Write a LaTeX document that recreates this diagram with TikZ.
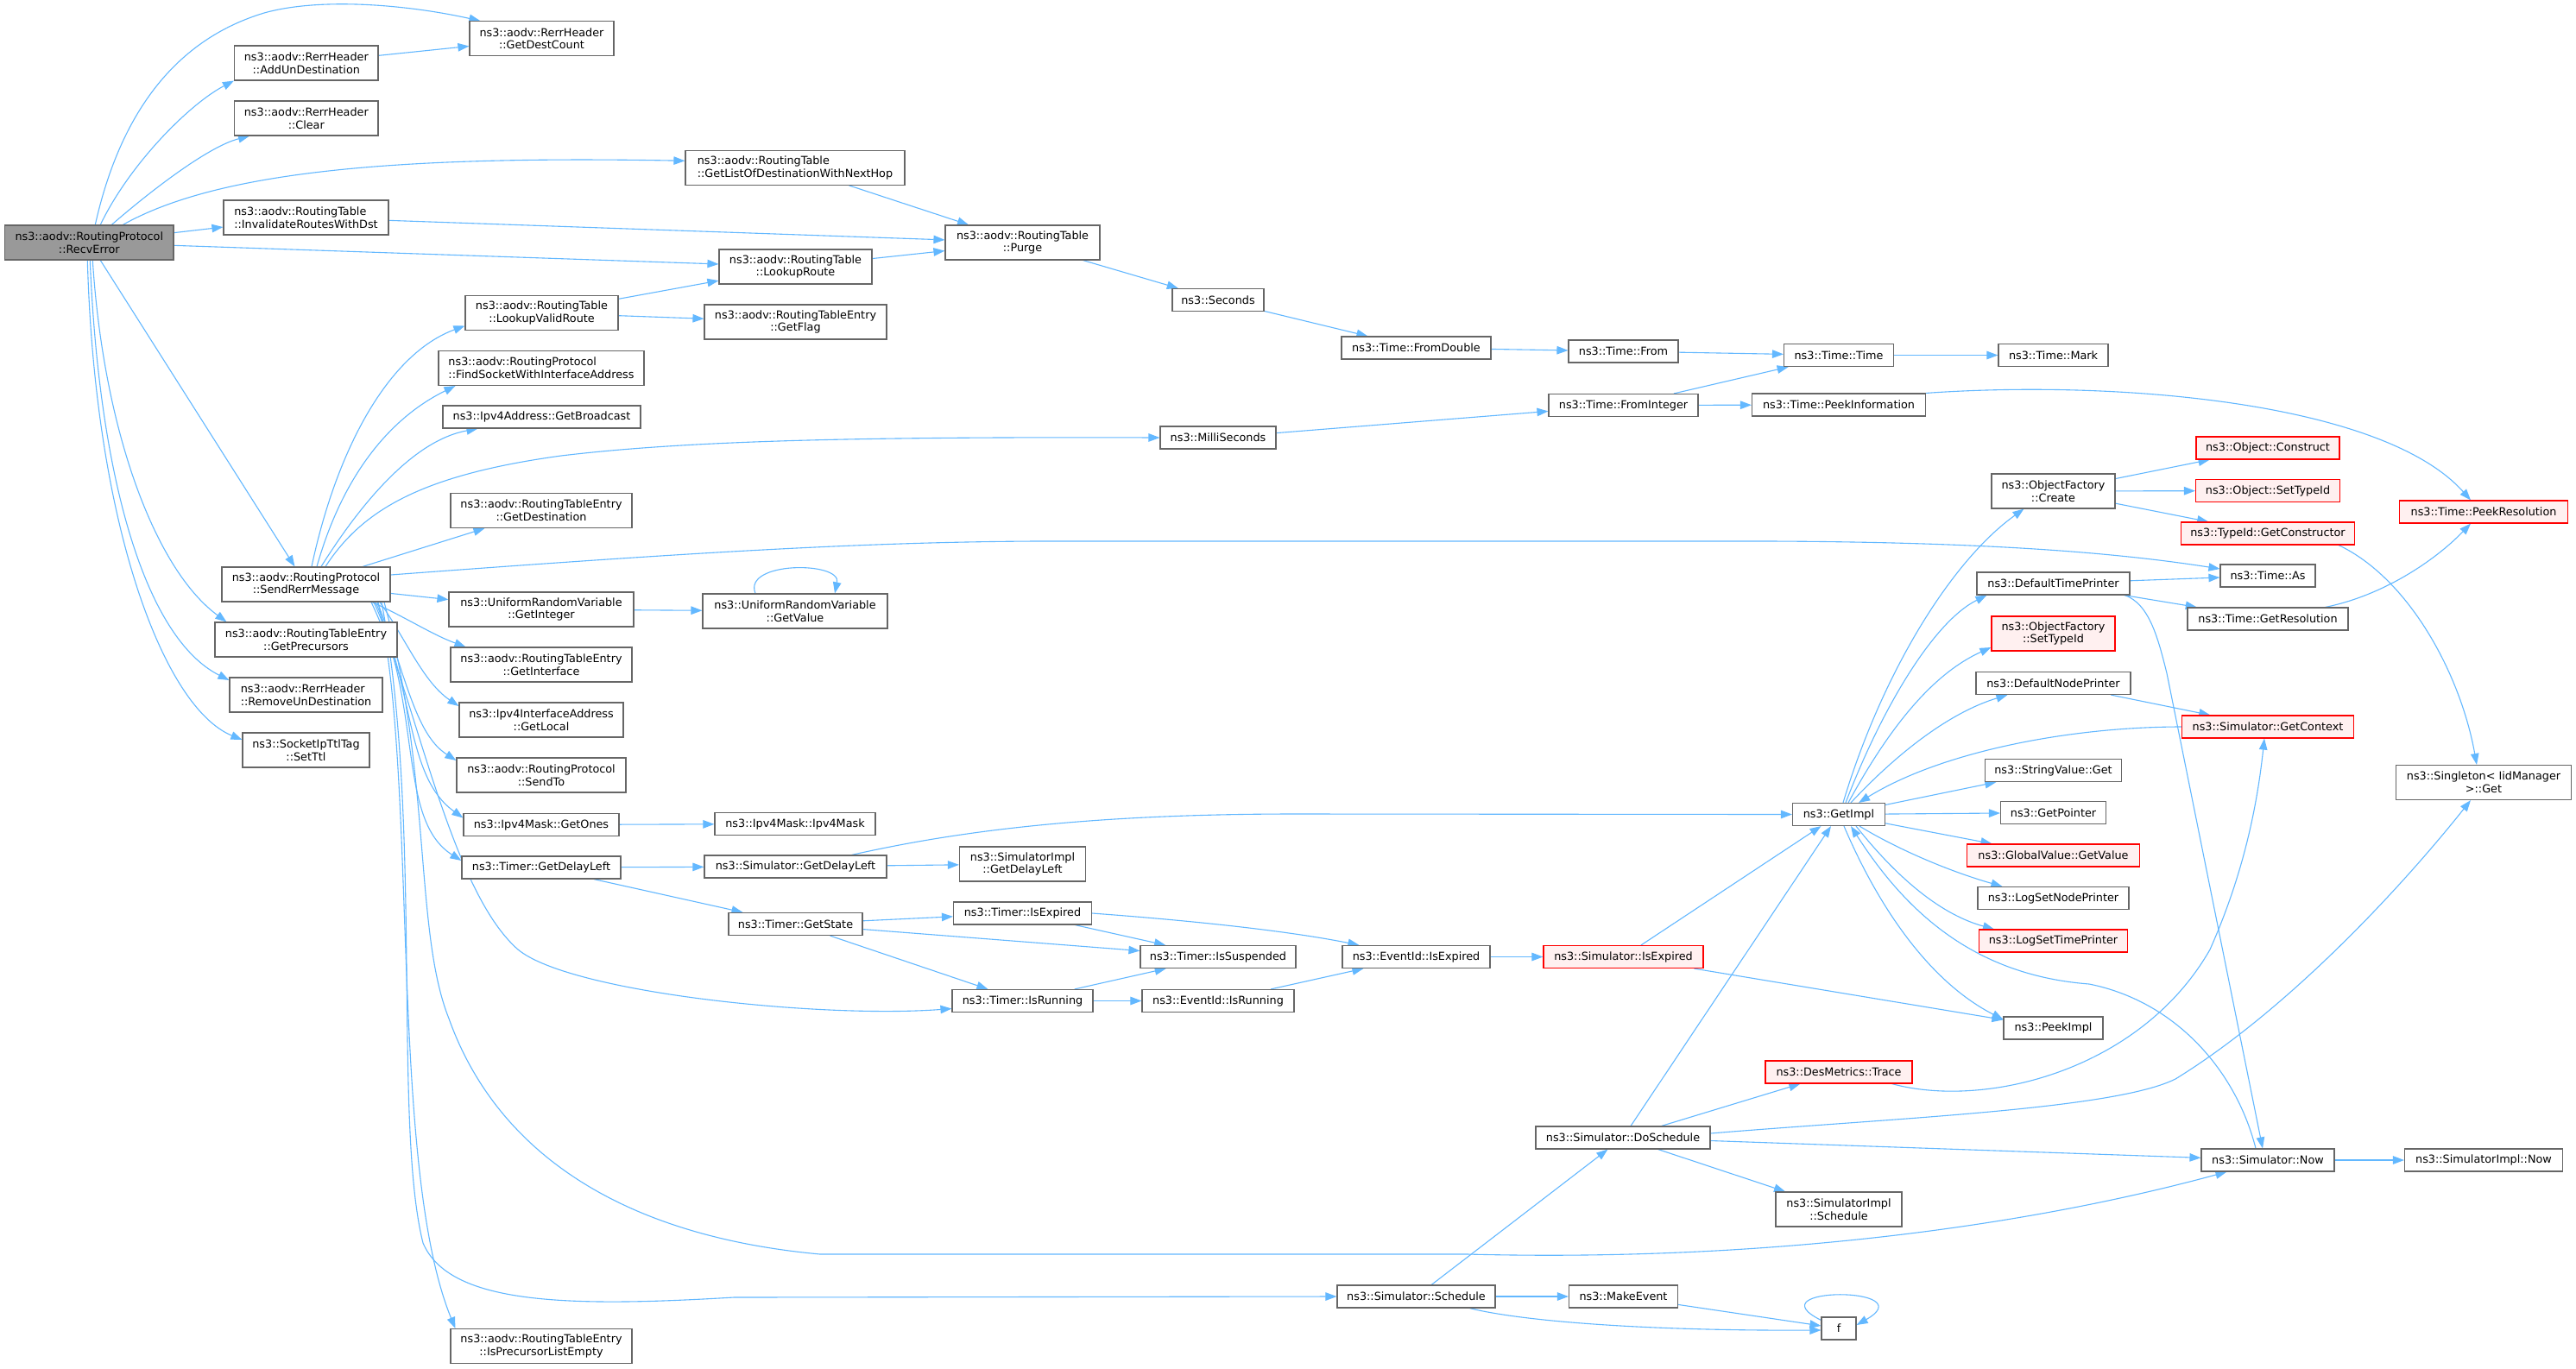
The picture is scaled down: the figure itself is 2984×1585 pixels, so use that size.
\documentclass[tikz,border=0pt]{standalone}
\usepackage{fontspec}
\newfontfamily\dejavu{DejaVu Sans}
\usetikzlibrary{arrows.meta,calc}
\definecolor{edgec}{HTML}{63B8FF}
\definecolor{bordc}{HTML}{666666}
\definecolor{rootc}{HTML}{999999}
\definecolor{redfill}{HTML}{FFF0F0}
\newcommand\nodefont{\dejavu\fontsize{12.8pt}{14.7pt}\selectfont}
\pgfdeclarelayer{bg}
\pgfsetlayers{bg,main}
\tikzset{
  box/.style={draw=bordc, fill=white, line width=1.15pt, inner sep=0pt, font=\nodefont, align=center},
  lbox/.style={box, align=left},
  rootbox/.style={box, fill=rootc},
  redbox/.style={box, draw=red, fill=redfill},
  sz/.style 2 args={minimum width=#1pt, minimum height=#2pt},
  edge/.style={draw=edgec, line width=1.1pt, -{Triangle[length=13pt,width=9.5pt]}},
}
\begin{document}
\begin{tikzpicture}[x=1pt,y=-1pt]
\useasboundingbox (0,0) rectangle (2984,1585);
% ---------- nodes ----------
\node[rootbox, sz={195.4}{40}] (recv) at (103.3,281) {ns3::aodv::RoutingProtocol\\::RecvError};
\node[box, sz={167}{40}] (getdest) at (627.5,44.8) {ns3::aodv::RerrHeader\\::GetDestCount};
\node[box, sz={166.5}{40}] (addun) at (354.8,73) {ns3::aodv::RerrHeader\\::AddUnDestination};
\node[box, sz={166.5}{40}] (clear) at (354.8,137) {ns3::aodv::RerrHeader\\::Clear};
\node[lbox, sz={254}{40}] (getlist) at (921,194.3) {ns3::aodv::RoutingTable\\::GetListOfDestinationWithNextHop};
\node[lbox, sz={191}{40}] (invalid) at (354.5,252) {ns3::aodv::RoutingTable\\::InvalidateRoutesWithDst};
\node[box, sz={179}{40}] (purge) at (1184.5,281) {ns3::aodv::RoutingTable\\::Purge};
\node[box, sz={177}{40}] (lookuproute) at (921.5,309) {ns3::aodv::RoutingTable\\::LookupRoute};
\node[box, sz={177}{40}] (lookupvalid) at (627.5,362.5) {ns3::aodv::RoutingTable\\::LookupValidRoute};
\node[box, sz={211}{40}] (getflag) at (921.5,373) {ns3::aodv::RoutingTableEntry\\::GetFlag};
\node[lbox, sz={238}{40}] (findsock) at (627,426.5) {ns3::aodv::RoutingProtocol\\::FindSocketWithInterfaceAddress};
\node[box, sz={229}{26}] (getbroad) at (627.5,483) {ns3::Ipv4Address::GetBroadcast};
\node[box, sz={210}{40}] (getdestination) at (627,591.5) {ns3::aodv::RoutingTableEntry\\::GetDestination};
\node[box, sz={195}{40}] (sendrerr) at (354.5,677) {ns3::aodv::RoutingProtocol\\::SendRerrMessage};
\node[box, sz={214}{40}] (getinteger) at (627,706) {ns3::UniformRandomVariable\\::GetInteger};
\node[box, sz={214}{40}] (getvalue) at (921,708) {ns3::UniformRandomVariable\\::GetValue};
\node[box, sz={211}{40}] (getprec) at (354.5,741) {ns3::aodv::RoutingTableEntry\\::GetPrecursors};
\node[box, sz={210}{40}] (getinterface) at (627,770) {ns3::aodv::RoutingTableEntry\\::GetInterface};
\node[lbox, sz={177}{40}] (removeun) at (354.5,805) {ns3::aodv::RerrHeader\\::RemoveUnDestination};
\node[box, sz={147}{40}] (setttl) at (354.5,869) {ns3::SocketIpTtlTag\\::SetTtl};
\node[box, sz={190}{40}] (getlocal) at (627,834) {ns3::Ipv4InterfaceAddress\\::GetLocal};
\node[box, sz={196}{40}] (sendto) at (627,898) {ns3::aodv::RoutingProtocol\\::SendTo};
\node[box, sz={180}{26}] (getones) at (627,955.5) {ns3::Ipv4Mask::GetOnes};
\node[box, sz={186}{26}] (ipv4mask) at (921,954.5) {ns3::Ipv4Mask::Ipv4Mask};
\node[box, sz={184}{26}] (timerdelay) at (627,1005) {ns3::Timer::GetDelayLeft};
\node[box, sz={211}{26}] (simdelay) at (921.5,1004) {ns3::Simulator::GetDelayLeft};
\node[box, sz={155}{26}] (getstate) at (921.5,1070.5) {ns3::Timer::GetState};
\node[box, sz={210}{40}] (isprec) at (627,1559.5) {ns3::aodv::RoutingTableEntry\\::IsPrecursorListEmpty};
\node[box, sz={106}{26}] (seconds) at (1411,347.5) {ns3::Seconds};
\node[box, sz={173}{26}] (fromdouble) at (1640.5,403) {ns3::Time::FromDouble};
\node[box, sz={127}{26}] (from) at (1880.5,407) {ns3::Time::From};
\node[box, sz={127}{26}] (timetime) at (2130,411.5) {ns3::Time::Time};
\node[box, sz={127}{26}] (mark) at (2378.5,411.5) {ns3::Time::Mark};
\node[box, sz={173}{26}] (fromint) at (1880.5,469.5) {ns3::Time::FromInteger};
\node[box, sz={201}{26}] (peekinfo) at (2130,469) {ns3::Time::PeekInformation};
\node[box, sz={134}{26}] (millis) at (1411,507) {ns3::MilliSeconds};
\node[box, sz={146}{40}] (simimpldelay) at (1184.5,1001) {ns3::SimulatorImpl\\::GetDelayLeft};
\node[box, sz={160}{26}] (timerisexp) at (1184.5,1058) {ns3::Timer::IsExpired};
\node[box, sz={180}{26}] (issusp) at (1411,1108.5) {ns3::Timer::IsSuspended};
\node[box, sz={171}{26}] (evisexp) at (1640.5,1108.5) {ns3::EventId::IsExpired};
\node[redbox, sz={185}{26}] (simisexp) at (1880.5,1108.5) {ns3::Simulator::IsExpired};
\node[box, sz={163}{26}] (timerisrun) at (1184.5,1159.5) {ns3::Timer::IsRunning};
\node[box, sz={176}{26}] (evisrun) at (1411,1159.5) {ns3::EventId::IsRunning};
\node[box, sz={107}{26}] (getimpl) at (2130,943.5) {ns3::GetImpl};
\node[redbox, sz={170}{26}] (trace) at (2130,1242) {ns3::DesMetrics::Trace};
\node[box, sz={202}{26}] (dosched) at (1880,1318) {ns3::Simulator::DoSchedule};
\node[box, sz={146}{40}] (simimplsched) at (2130,1401) {ns3::SimulatorImpl\\::Schedule};
\node[box, sz={154}{26}] (simnow) at (2627,1344) {ns3::Simulator::Now};
\node[box, sz={183}{26}] (simimplnow) at (2877,1344) {ns3::SimulatorImpl::Now};
\node[box, sz={183}{26}] (simsched) at (1640.5,1502) {ns3::Simulator::Schedule};
\node[box, sz={126}{26}] (makeevent) at (1880.5,1502) {ns3::MakeEvent};
\node[box, sz={40}{26}] (f) at (2130,1539) {f};
\node[box, sz={115}{26}] (peekimpl) at (2378.5,1191) {ns3::PeekImpl};
\node[box, sz={143}{40}] (create) at (2378.5,569) {ns3::ObjectFactory\\::Create};
\node[redbox, sz={166}{26}] (construct) at (2627,519) {ns3::Object::Construct};
\node[redbox, sz={167}{26}] (objsettype) at (2627,568.5) {ns3::Object::SetTypeId};
\node[redbox, sz={201}{26}] (getctor) at (2627,618) {ns3::TypeId::GetConstructor};
\node[redbox, sz={195}{26}] (peekres) at (2877,593) {ns3::Time::PeekResolution};
\node[box, sz={110}{26}] (timeas) at (2627,667) {ns3::Time::As};
\node[box, sz={177}{26}] (deftimeprinter) at (2378.5,676) {ns3::DefaultTimePrinter};
\node[box, sz={186}{26}] (getres) at (2627,717) {ns3::Time::GetResolution};
\node[redbox, sz={143}{40}] (ofsettype) at (2378.5,734) {ns3::ObjectFactory\\::SetTypeId};
\node[box, sz={179}{26}] (defnodeprinter) at (2378.5,791.5) {ns3::DefaultNodePrinter};
\node[redbox, sz={199}{26}] (getcontext) at (2627,842) {ns3::Simulator::GetContext};
\node[box, sz={203}{40}] (singleton) at (2877,906.5) {ns3::Singleton< IidManager\\ >::Get};
\node[box, sz={158}{26}] (stringget) at (2378.5,892.5) {ns3::StringValue::Get};
\node[box, sz={122}{26}] (getpointer) at (2378.5,941.5) {ns3::GetPointer};
\node[redbox, sz={200}{26}] (globalget) at (2378.5,991) {ns3::GlobalValue::GetValue};
\node[box, sz={175}{26}] (logsetnode) at (2378.5,1040.5) {ns3::LogSetNodePrinter};
\node[redbox, sz={172}{26}] (logsettime) at (2378.5,1090) {ns3::LogSetTimePrinter};
% ---------- edges ----------
\begin{pgfonlayer}{bg}
\fill[white] (0,0) rectangle (2984,1585);
% RecvError
\draw[edge] ($(recv.north)+(7,0)$) .. controls (135,150) and (190,50) .. (306,15) .. controls (370,-3) and (470,5) .. ($(getdest.north west)+(13,0)$);
\draw[edge] ($(recv.north)+(13,0)$) .. controls (150,190) and (220,120) .. (addun.south west);
\draw[edge] ($(recv.north)+(26,0)$) .. controls (170,225) and (240,170) .. ($(clear.south west)+(18,0)$);
\draw[edge] ($(recv.north)+(39,0)$) .. controls (250,200) and (450,180) .. ($(getlist.west)+(0,-8)$);
\draw[edge] (recv) -- (invalid);
\draw[edge] (recv) -- (lookuproute);
\draw[edge] (recv) -- (sendrerr);
\draw[edge] ($(recv.south)+(4,0)$) .. controls (120,500) and (180,660) .. ($(getprec.north west)+(14,0)$);
\draw[edge] ($(recv.south)+(1,0)$) .. controls (115,560) and (170,740) .. ($(removeun.west)+(0,-17)$);
\draw[edge] ($(recv.south)+(-2,0)$) .. controls (110,610) and (190,820) .. ($(setttl.west)+(0,-12)$);
% upper chain
\draw[edge] (addun) -- (getdest);
\draw[edge] (getlist) -- (purge);
\draw[edge] (invalid) -- (purge);
\draw[edge] (lookuproute) -- (purge);
\draw[edge] (lookupvalid) -- (lookuproute);
\draw[edge] (lookupvalid) -- (getflag);
\draw[edge] (purge) -- (seconds);
\draw[edge] (seconds) -- (fromdouble);
\draw[edge] (fromdouble) -- (from);
\draw[edge] (from) -- (timetime);
\draw[edge] (timetime) -- (mark);
\draw[edge] (fromint) -- (timetime);
\draw[edge] (fromint) -- (peekinfo);
\draw[edge] (millis) -- (fromint);
\draw[edge] (peekinfo.north east) .. controls (2450,440) and (2760,465) .. ($(peekres.north)+(-15,0)$);
% SendRerrMessage
\draw[edge] ($(sendrerr.north)+(6.5,0)$) .. controls (390,520) and (450,410) .. ($(lookupvalid.west)+(0,15)$);
\draw[edge] ($(sendrerr.north)+(12.5,0)$) .. controls (400,540) and (460,480) .. ($(findsock.south west)+(20,0)$);
\draw[edge] ($(sendrerr.north)+(17.5,0)$) .. controls (420,580) and (480,510) .. ($(getbroad.south west)+(41,0)$);
\draw[edge] ($(sendrerr.north)+(22.5,0)$) .. controls (420,590) and (490,550) .. (650,528) .. controls (800,510) and (1000,506) .. (millis.west);
\draw[edge] (sendrerr) -- (getdestination);
\draw[edge] ($(sendrerr.east)+(0,-11)$) .. controls (800,640) and (1000,628) .. (1200,627) -- (2050,627) .. controls (2300,628) and (2450,640) .. ($(timeas.west)+(0,-8)$);
\draw[edge] (sendrerr) -- (getinteger);
\draw[edge] ($(sendrerr.south)+(76.5,0)$) .. controls (470,715) and (500,735) .. ($(getinterface.north west)+(18,0)$);
\draw[edge] ($(sendrerr.south)+(85.5,0)$) .. controls (470,740) and (490,790) .. ($(getlocal.west)+(0,-16)$);
\draw[edge] ($(sendrerr.south)+(82.5,0)$) .. controls (470,780) and (480,850) .. ($(sendto.west)+(0,-17)$);
\draw[edge] ($(sendrerr.south)+(80.5,0)$) .. controls (480,800) and (470,900) .. ($(getones.west)+(0,-8)$);
\draw[edge] ($(sendrerr.south)+(78.5,0)$) .. controls (490,820) and (460,950) .. ($(timerdelay.west)+(0,-8)$);
\draw[edge] ($(sendrerr.south)+(75.5,0)$) .. controls (480,800) and (520,1030) .. (600,1100) .. controls (660,1150) and (950,1180) .. ($(timerisrun.west)+(0,9)$);
\draw[edge] ($(sendrerr.south)+(90.5,0)$) .. controls (500,900) and (480,1080) .. (520,1180) .. controls (570,1320) and (700,1430) .. (950,1453) -- (1700,1453) .. controls (2050,1462) and (2350,1420) .. ($(simnow.south west)+(30,0)$);
\draw[edge] ($(sendrerr.south)+(87.5,0)$) .. controls (490,950) and (455,1300) .. (490,1440) .. controls (520,1510) and (650,1515) .. (850,1503) -- (simsched.west);
\draw[edge] ($(sendrerr.south)+(83.5,0)$) .. controls (485,900) and (450,1350) .. ($(isprec.north west)+(6,0)$);
% middle
\draw[edge] (getinteger) -- (getvalue);
\draw[edge] ($(getvalue.north)+(-46,0)$) .. controls (860,650) and (975,650) .. ($(getvalue.north)+(46,0)$);
\draw[edge] (getones) -- (ipv4mask);
\draw[edge] (timerdelay) -- (simdelay);
\draw[edge] (timerdelay) -- (getstate);
\draw[edge] (simdelay) -- (simimpldelay);
\draw[edge] ($(simdelay.north east)+(-41,0)$) .. controls (1100,965) and (1250,943) .. (1500,943) -- (getimpl.west);
\draw[edge] (getstate) -- (timerisexp);
\draw[edge] (getstate) -- (issusp);
\draw[edge] (getstate) -- (timerisrun);
\draw[edge] (timerisexp) -- (issusp);
\draw[edge] (timerisexp.east) .. controls (1400,1068) and (1500,1080) .. ($(evisexp.north west)+(20,0)$);
\draw[edge] (timerisrun) -- (issusp);
\draw[edge] (timerisrun) -- (evisrun);
\draw[edge] (evisrun) -- (evisexp);
\draw[edge] (evisexp) -- (simisexp);
\draw[edge] (simisexp) -- (getimpl);
\draw[edge] (simisexp) -- (peekimpl);
% scheduling
\draw[edge] (simsched) -- (dosched);
\draw[edge] (simsched) -- (makeevent);
\draw[edge] ($(simsched.south east)+(-30,0)$) .. controls (1760,1530) and (1900,1542) .. ($(f.west)+(0,2)$);
\draw[edge] (makeevent) -- (f);
\draw[edge] ($(f.north west)+(0,4)$) .. controls (2030,1490) and (2230,1490) .. ($(f.east)+(0,-4)$);
\draw[edge] (dosched) -- (getimpl);
\draw[edge] (dosched) -- (trace);
\draw[edge] ($(dosched.east)+(0,-5)$) .. controls (2200,1295) and (2450,1285) .. (2520,1250) .. controls (2650,1170) and (2780,1030) .. ($(singleton.south)+(-15,0)$);
\draw[edge] (dosched) -- (simnow);
\draw[edge] (dosched) -- (simimplsched);
\draw[edge] ($(trace.south east)+(-24,0)$) .. controls (2300,1285) and (2480,1240) .. (2560,1100) .. controls (2600,1010) and (2615,930) .. ($(getcontext.south)+(-4,0)$);
\draw[edge] (simnow) -- (simimplnow);
\draw[edge] ($(simnow.north)+(-14,0)$) .. controls (2590,1240) and (2520,1160) .. (2420,1140) .. controls (2290,1130) and (2210,1060) .. ($(getimpl.south)+(14,0)$);
% right part
\draw[edge] ($(deftimeprinter.south east)+(-6,0)$) .. controls (2490,700) and (2500,740) .. (2510,780) -- ($(simnow.north)+(-6,0)$);
\draw[edge] (deftimeprinter) -- (timeas);
\draw[edge] (deftimeprinter) -- (getres);
\draw[edge] ($(getres.north east)+(-27,0)$) .. controls (2760,690) and (2820,650) .. ($(peekres.south)+(-15,0)$);
\draw[edge] (create) -- (construct);
\draw[edge] (create) -- (objsettype);
\draw[edge] (create) -- (getctor);
\draw[edge] ($(getctor.south east)+(-19,0)$) .. controls (2790,670) and (2850,780) .. ($(singleton.north)+(-8,0)$);
\draw[edge] ($(getimpl.north)+(5,0)$) .. controls (2180,780) and (2260,650) .. ($(create.south west)+(38,0)$);
\draw[edge] ($(getimpl.north)+(8,0)$) .. controls (2180,820) and (2240,720) .. ($(deftimeprinter.south west)+(12,0)$);
\draw[edge] ($(getimpl.north)+(11,0)$) .. controls (2190,840) and (2240,780) .. ($(ofsettype.west)+(0,16)$);
\draw[edge] ($(getimpl.north)+(14,0)$) .. controls (2200,870) and (2260,825) .. ($(defnodeprinter.south west)+(37,0)$);
\draw[edge] (getcontext.west) .. controls (2400,842) and (2250,870) .. ($(getimpl.north east)+(-31,0)$);
\draw[edge] (defnodeprinter) -- (getcontext);
\draw[edge] (getimpl) -- (stringget);
\draw[edge] (getimpl) -- (getpointer);
\draw[edge] (getimpl) -- (globalget);
\draw[edge] ($(getimpl.south)+(24,0)$) .. controls (2200,985) and (2260,1010) .. ($(logsetnode.north west)+(29,0)$);
\draw[edge] ($(getimpl.south)+(20,0)$) .. controls (2200,1020) and (2250,1060) .. ($(logsettime.north west)+(18,0)$);
\draw[edge] ($(getimpl.south)+(6,0)$) .. controls (2180,1060) and (2240,1140) .. ($(peekimpl.west)+(0,-10)$);
\end{pgfonlayer}
\end{tikzpicture}
\end{document}
